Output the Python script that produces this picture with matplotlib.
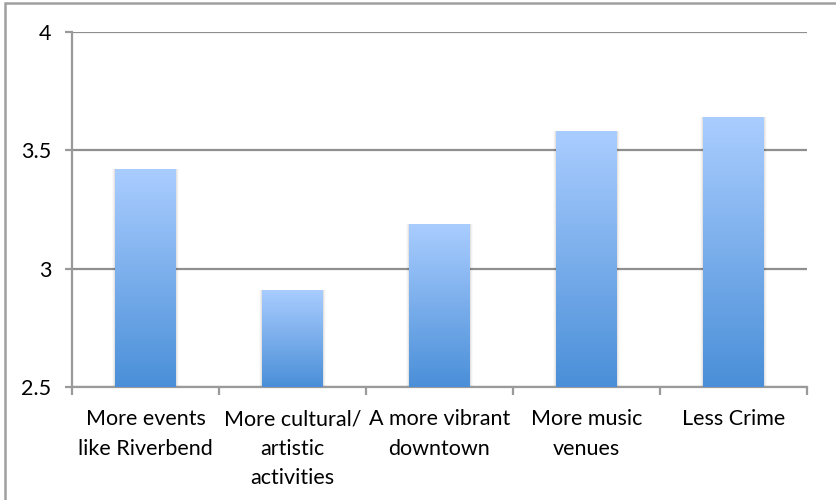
import matplotlib.pyplot as plt
import numpy as np
from matplotlib.colors import LinearSegmentedColormap
from matplotlib.patches import Rectangle

categories = [
    "More events\nlike Riverbend",
    "More cultural/\nartistic\nactivities",
    "A more vibrant\ndowntown",
    "More music\nvenues",
    "Less Crime",
]
scores = [3.42, 2.91, 3.19, 3.58, 3.64]
y_ticks = [2.5, 3, 3.5, 4]
y_tick_labels = ["2.5", "3", "3.5", "4"]

plt.rcParams["font.family"] = ["Lato", "DejaVu Sans"]

fig = plt.figure(figsize=(8.36, 5), dpi=100)
ax = fig.add_axes([0.0861, 0.226, 0.8792, 0.710])

grad = LinearSegmentedColormap.from_list("bar_grad", ["#4a8fd8", "#aacdff"])
gradient = np.linspace(0, 1, 256).reshape(-1, 1)

x = np.arange(len(categories))
bars = ax.bar(x, scores, width=0.41, bottom=0, color="none", zorder=3)
for bar in bars:
    bx, bw, bh = bar.get_x(), bar.get_width(), bar.get_height()
    # soft shadow around each bar
    for k, a in enumerate([0.06, 0.035, 0.02]):
        off = 0.008 * (k + 1)
        ax.add_patch(Rectangle((bx - off, 2.5), bw + off * 2, bh - 2.5 + off * 0.03,
                               facecolor="black", alpha=a, lw=0, zorder=2))
    im = ax.imshow(gradient, cmap=grad, origin="lower", aspect="auto",
                   extent=[bx, bx + bw, 2.5, bh], zorder=3)
    im.set_clip_path(bar)

ax.set_xlim(-0.5, len(categories) - 0.5)
ax.set_ylim(2.5, 4)
ax.set_yticks(y_ticks)
ax.set_yticklabels(y_tick_labels, fontsize=15.5)
ax.yaxis.grid(True, color="#8f8f8f", lw=1.6, zorder=1)
ax.set_axisbelow(True)

ax.set_xticks(np.arange(len(categories) + 1) - 0.5)
ax.set_xticklabels([])
ax.tick_params(axis="x", length=6, width=1.6, color="#9a9a9a")
ax.tick_params(axis="y", length=5, width=1.6, color="#9a9a9a", pad=10)
for i, label in enumerate(categories):
    ax.text(i, 2.5 - 0.095, label, ha="center", va="top", fontsize=15.5,
            linespacing=1.58)

for side in ["top", "right"]:
    ax.spines[side].set_visible(False)
for side in ["left", "bottom"]:
    ax.spines[side].set_color("#9a9a9a")
    ax.spines[side].set_linewidth(1.6)

# outer chart frame
fig.patches.append(Rectangle((5 / 836, -0.1), 1.2, 1 - 3 / 500 + 0.1,
                             transform=fig.transFigure, fill=False,
                             edgecolor="#a0a0a0", lw=1.8))

fig.savefig("out.png", dpi=100)
